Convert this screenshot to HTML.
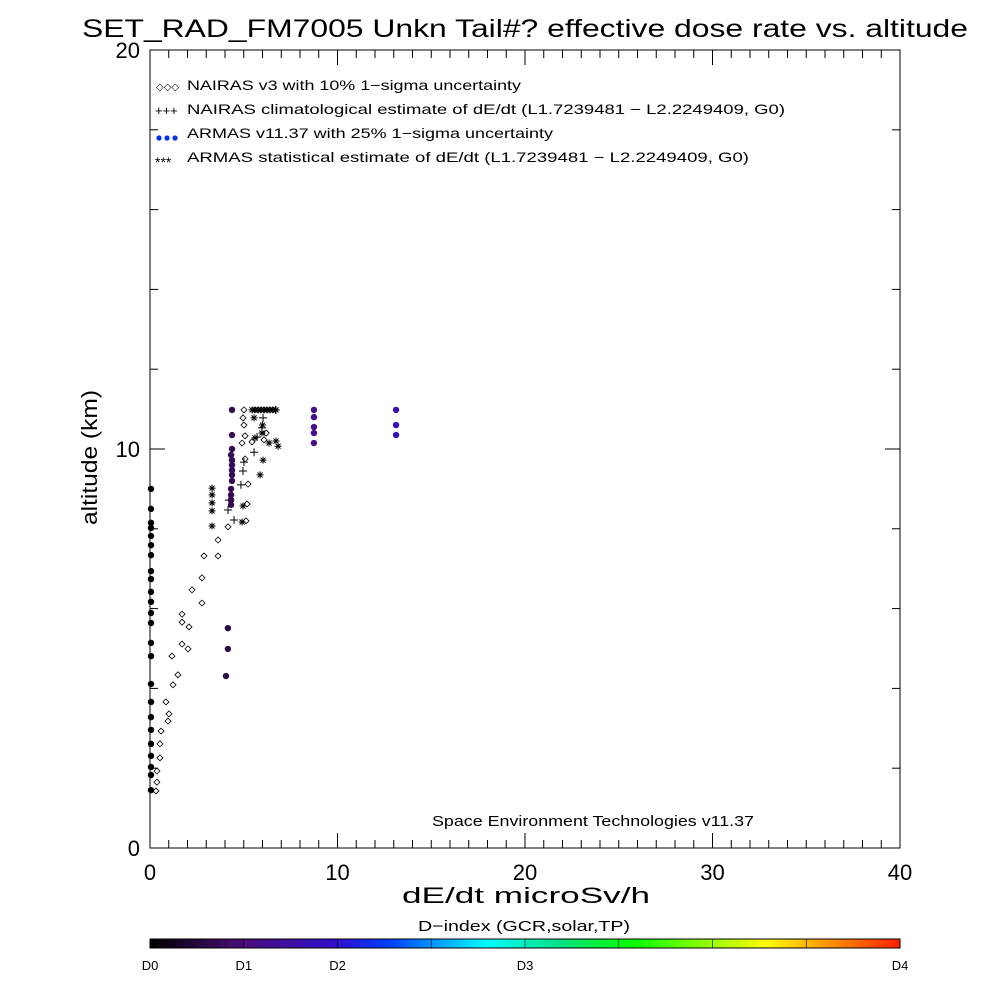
<!DOCTYPE html>
<html><head><meta charset="utf-8"><style>
html,body{margin:0;padding:0;background:#fff;width:1000px;height:1000px;overflow:hidden}
svg text{font-family:"Liberation Sans",sans-serif;fill:#000}
</style></head><body>
<svg id="chart" width="1000" height="1000" viewBox="0 0 1000 1000" xmlns="http://www.w3.org/2000/svg">
<defs>
<linearGradient id="cb" x1="0" x2="1" y1="0" y2="0">
<stop offset="0" stop-color="#000000"/><stop offset="0.125" stop-color="#4a0e78"/><stop offset="0.25" stop-color="#3010d0"/><stop offset="0.32" stop-color="#0040ff"/><stop offset="0.45" stop-color="#00ffff"/><stop offset="0.55" stop-color="#00e080"/><stop offset="0.64" stop-color="#00ff00"/><stop offset="0.82" stop-color="#ffff00"/><stop offset="0.9" stop-color="#ff9900"/><stop offset="1" stop-color="#ff2000"/>
</linearGradient>
</defs>
<text x="82" y="37" font-size="25" textLength="886" lengthAdjust="spacingAndGlyphs">SET_RAD_FM7005  Unkn Tail#? effective dose rate vs. altitude</text>
<rect x="150" y="50" width="750" height="798" fill="none" stroke="#000" stroke-width="1"/>
<g id="axes"></g>
<g id="marks"></g>
<g font-size="14">
<g>
<text x="156" y="90" font-size="10">◇◇◇</text>
<text x="187" y="90" textLength="334" lengthAdjust="spacingAndGlyphs">NAIRAS v3 with 10% 1−sigma uncertainty</text></g>
<g>
<text x="155" y="115" font-size="13">+++</text>
<text x="187" y="114" textLength="598" lengthAdjust="spacingAndGlyphs">NAIRAS climatological estimate of dE/dt (L1.7239481 − L2.2249409, G0)</text></g>
<g>
<circle cx="159" cy="138" r="2.6" fill="#0030e0"/><circle cx="167" cy="138" r="2.6" fill="#0030e0"/><circle cx="175" cy="138" r="2.6" fill="#0030e0"/>
<text x="187" y="138" textLength="366" lengthAdjust="spacingAndGlyphs">ARMAS v11.37 with 25% 1−sigma uncertainty</text></g>
<g>
<text x="155" y="167" font-size="14">***</text>
<text x="187" y="162" textLength="562" lengthAdjust="spacingAndGlyphs">ARMAS statistical estimate of dE/dt (L1.7239481 − L2.2249409, G0)</text></g>
</g>
<text x="432" y="826" font-size="15" textLength="322" lengthAdjust="spacingAndGlyphs">Space Environment Technologies v11.37</text>
<text x="402" y="903" font-size="22" textLength="248" lengthAdjust="spacingAndGlyphs">dE/dt microSv/h</text>
<text transform="translate(97,525) rotate(-90)" font-size="22" textLength="135" lengthAdjust="spacingAndGlyphs">altitude (km)</text>
<text x="418" y="931" font-size="15" textLength="212" lengthAdjust="spacingAndGlyphs">D−index (GCR,solar,TP)</text>
<rect x="150" y="939" width="750" height="9" fill="url(#cb)" stroke="#000" stroke-width="1"/>
<g id="cbticks"></g>
</svg>
<script>
const xTicks=[0,10,20,30,40];
const xMinor=[1,2,3,4,5,6,7,8,9,11,12,13,14,15,16,17,18,19,21,22,23,24,25,26,27,28,29,31,32,33,34,35,36,37,38,39];
const yTicks=[0,10,20];
const yMinor=[2,4,6,8,12,14,16,18];
const cbLabels=["D0","D1","D2","D3","D4"];
const cbLabelPos=[0,1,2,4,8];
// NAIRAS v3 (diamonds): dose, altitude
const nairasDose=[5.01,4.96,5.01,5.07,4.91,5.44,5.07,5.23,5.17,5.12,4.16,3.63,3.63,2.88,2.77,2.24,2.77,1.71,1.71,2.08,1.71,2.03,1.17,1.49,1.23,0.85,1.01,0.96,0.59,0.53,0.53,0.37,0.37,0.32,6.08,6.2];
const nairasAlt=[10.98,10.78,10.60,10.33,10.15,10.18,9.75,9.12,8.62,8.20,8.05,7.72,7.32,7.32,6.77,6.47,6.14,5.86,5.66,5.54,5.11,4.99,4.81,4.34,4.09,3.66,3.36,3.18,2.93,2.61,2.26,1.93,1.65,1.43,10.23,10.4];
// NAIRAS climatological (+)
const climDose=[6.03,5.97,5.71,5.55,5.01,4.96,4.85,4.21,4.16,4.48,6.7];
const climAlt=[10.78,10.53,10.30,9.92,9.67,9.45,9.10,8.72,8.47,8.22,10.98];
// ARMAS statistical (*)
const statDose=[5.44,5.6,5.76,5.92,6.08,6.24,6.4,6.56,6.72,5.55,5.6,5.97,6.35,6.0,6.72,6.83,6.03,5.87,4.96,4.91,3.31,3.31,3.31,3.31,3.31];
const statAlt=[10.98,10.98,10.98,10.98,10.98,10.98,10.98,10.98,10.98,10.78,10.28,10.40,10.15,10.6,10.20,10.07,9.72,9.35,8.57,8.17,9.02,8.85,8.65,8.45,8.07];
// ARMAS v11.37 measurements (dots) with D-index colour
const armasDose=[0,0,0,0,0,0,0,0,0,0,0,0,0,0,0,0,0,0,0,0,0,0,0,0,4.32,4.32,4.32,4.27,4.32,4.32,4.32,4.32,4.32,4.27,4.27,4.27,4.27,4.1,4.1,4.0,8.69,8.69,8.69,8.69,8.69,13.07,13.07,13.07];
const armasAlt=[9.0,8.5,8.15,8.02,7.82,7.59,7.34,6.94,6.74,6.42,6.17,5.89,5.64,5.14,4.81,4.11,3.66,3.28,2.96,2.61,2.31,2.03,1.83,1.45,10.98,10.35,10.0,9.85,9.72,9.6,9.47,9.35,9.2,9.0,8.85,8.72,8.6,5.51,4.99,4.31,10.98,10.8,10.55,10.4,10.15,10.98,10.6,10.35];
const armasD=[0,0,0,0,0,0,0,0,0,0,0,0,0,0,0,0,0,0,0,0,0,0,0,0,0.35,0.35,0.35,0.35,0.35,0.35,0.35,0.35,0.35,0.35,0.35,0.35,0.35,0.3,0.3,0.3,0.6,0.6,0.6,0.6,0.6,0.85,0.85,0.85];

const NS="http://www.w3.org/2000/svg";
const X=v=>150+v*750/40;
const Y=v=>848-v*798/20;
function mk(t,a,p){const e=document.createElementNS(NS,t);for(const k in a)e.setAttribute(k,a[k]);p.appendChild(e);return e;}
const axes=document.getElementById('axes');
xTicks.forEach(v=>{
  const l=mk('line',{x1:X(v),x2:X(v),y1:848,y2:833,stroke:'#000'},axes);
  
  
  const l2=mk('line',{x1:X(v),x2:X(v),y1:50,y2:65,stroke:'#000'},axes);
  
  
  const t=mk('text',{x:X(v),y:880,'font-size':22,'text-anchor':'middle'},axes);
  t.textContent=v;
  
  
});
xMinor.forEach(v=>{
  const l=mk('line',{x1:X(v),x2:X(v),y1:848,y2:840,stroke:'#000'},axes);
  
  
  const l2=mk('line',{x1:X(v),x2:X(v),y1:50,y2:58,stroke:'#000'},axes);
  
  
});
yTicks.forEach(v=>{
  const l=mk('line',{x1:150,x2:165,y1:Y(v),y2:Y(v),stroke:'#000'},axes);
  
  
  const l2=mk('line',{x1:885,x2:900,y1:Y(v),y2:Y(v),stroke:'#000'},axes);
  
  
  const t=mk('text',{x:140,y:Y(v)+8,'font-size':22,'text-anchor':'end'},axes);
  t.textContent=v;
  
  
});
yMinor.forEach(v=>{
  const l=mk('line',{x1:150,x2:158,y1:Y(v),y2:Y(v),stroke:'#000'},axes);
  
  
  const l2=mk('line',{x1:892,x2:900,y1:Y(v),y2:Y(v),stroke:'#000'},axes);
  
  
});
const cbt=document.getElementById('cbticks');
for(let i=1;i<8;i++){
  const l=mk('line',{x1:150+i*750/8,x2:150+i*750/8,y1:939,y2:948,stroke:'#000','stroke-width':0.6},cbt);
  
  
}
cbLabels.forEach((s,i)=>{
  const t=mk('text',{x:150+cbLabelPos[i]*750/8,y:970,'font-size':13,'text-anchor':'middle'},cbt);
  t.textContent=s;
  
  
});
const stops=[[0,[0,0,0]],[0.5,[74,14,120]],[1,[48,16,208]],[1.28,[0,64,255]],[1.8,[0,255,255]],[2.56,[0,255,0]],[3.28,[255,255,0]],[3.6,[255,153,0]],[4,[255,32,0]]];
function dcol(d){for(let i=1;i<stops.length;i++){if(d<=stops[i][0]){const a=stops[i-1],b=stops[i],f=(d-a[0])/(b[0]-a[0]);const c=a[1].map((x,k)=>Math.round(x+(b[1][k]-x)*f));return 'rgb('+c.join(',')+')';}}return 'rgb(255,32,0)';}
const marks=document.getElementById('marks');
nairasDose.forEach((v,i)=>{
  const x=X(v),y=Y(nairasAlt[i]);
  const p=mk('path',{d:`M${x-3},${y}L${x},${y-3}L${x+3},${y}L${x},${y+3}Z`,fill:'none',stroke:'#000','stroke-width':0.8},marks);
  
  
});
climDose.forEach((v,i)=>{
  const x=X(v),y=Y(climAlt[i]);
  const p=mk('path',{d:`M${x-4},${y}H${x+4}M${x},${y-4}V${y+4}`,stroke:'#000','stroke-width':1},marks);
  
  
});
statDose.forEach((v,i)=>{
  const x=X(v),y=Y(statAlt[i]);
  const p=mk('path',{d:`M${x-3.5},${y}H${x+3.5}M${x},${y-3.5}V${y+3.5}M${x-2.5},${y-2.5}L${x+2.5},${y+2.5}M${x-2.5},${y+2.5}L${x+2.5},${y-2.5}`,stroke:'#000','stroke-width':1},marks);
  
  
});
armasDose.forEach((v,i)=>{
  const c=mk('circle',{cx:X(v)+1,cy:Y(armasAlt[i]),r:3.2,fill:dcol(armasD[i])},marks);
  
  
});
</script>
</body></html>
